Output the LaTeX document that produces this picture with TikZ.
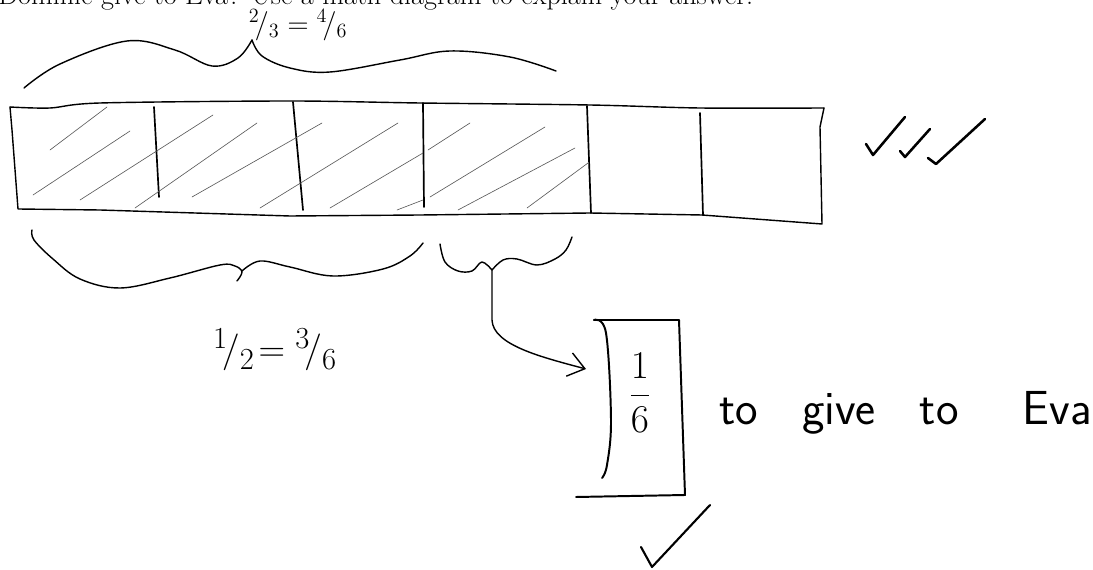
\documentclass[tikz,border=0pt]{standalone}
\usepackage{amsmath}
\usetikzlibrary{arrows.meta}

\begin{document}
\begin{tikzpicture}[
  x=0.025cm, y=-0.025cm,
  every node/.style={inner sep=0pt},
  pen/.style={line width=1pt,line cap=round,line join=round},
  hatch/.style={line width=0.45pt,black!65,line cap=round},
  tick/.style={line width=1.8pt,line cap=round,line join=round},
  hand/.style={font=\sffamily\fontsize{34}{40}\selectfont},
  arrow/.style={pen,-{Straight Barb[length=4mm,width=6mm]}}
]
  \useasboundingbox (0,0) rectangle (1093,570);

  % printed question, cut off at the top
  \node[anchor=base west,font=\fontsize{20}{24}\selectfont] (question) at (-2,5)
    {Dominic give to Eva? Use a math diagram to explain your answer.};

  % brace over the shaded part
  \draw[pen] plot[smooth,tension=0.6] coordinates {(24,88) (60,64) (127,41) (175,50) (212,66) (238,58) (252,40)};
  \draw[pen] plot[smooth,tension=0.6] coordinates {(252,40) (262,56) (290,68) (330,72) (400,60) (450,51) (510,57) (556,71)};
  \node[font=\fontsize{20}{24}\selectfont] (thirds) at (298,25) {$^{2}\!/_{3} = {}^{4}\!/_{6}$};

  % the bar
  \draw[pen] plot[smooth,tension=0.5] coordinates {(10,107) (50,108) (100,103) (290,101) (420,103) (590,105) (700,108) (824,108)};
  \draw[pen] (824,108) -- (820,127) -- (822,224) -- (702,215) -- (590,213) -- (420,215)
    -- (290,216) -- (100,210) -- (18,209) -- (12,130) -- (10,107);
  \foreach \xa/\ya/\xb/\yb in {154/107/159/197, 293/102/303/210, 423/103/424/207,
                               587/106/591/213, 700/113/703/215}
    \draw[pen,line width=1.2pt] (\xa,\ya) -- (\xb,\yb);
  % shading of four parts
  \foreach \xa/\ya/\xb/\yb in {50/150/107/107, 33/195/130/131, 80/200/213/115, 135/208/257/123,
                               192/197/322/123, 260/208/398/123, 330/208/423/153, 397/210/423/200,
                               428/150/470/123, 430/197/545/127, 458/210/575/148, 527/208/588/163}
    \draw[hatch] (\xa,\ya) -- (\xb,\yb);

  % braces under the bar
  \draw[pen] plot[smooth,tension=0.6] coordinates {(32,230) (34,240) (53,259) (80,279) (120,288) (170,278) (220,265) (235,266) (242,272) (237,281)};
  \draw[pen] plot[smooth,tension=0.6] coordinates {(242,271) (260,261) (290,267) (333,276) (383,269) (410,256) (423,243)};
  \node[font=\fontsize{24.88}{30}\selectfont,scale=1.05] (halves) at (275,350) {$^{1}\!/_{2}\!={}^{3}\!/_{6}$};

  \draw[pen] plot[smooth,tension=0.6] coordinates {(440,244) (445,262) (458,271) (472,271) (482,262) (492,270)};
  \draw[pen] plot[smooth,tension=0.6] coordinates {(492,270) (503,260) (517,259) (537,265) (555,259) (566,250) (572,237)};
  \coordinate (gcusp) at (492,270);
  \coordinate (tip) at (586,369);

  % box with the sixth
  \draw[pen,line width=1.4pt] (594,320) -- (679,320) -- (685,495) -- (576,497);
  \draw[pen,line width=1.4pt] plot[smooth,tension=0.6] coordinates {(594,320) (606,333) (611,420) (607,465) (602,478)};
  \node[font=\huge,scale=1.35] (sixth) at (640,393) {$\dfrac{1}{6}$};
  \draw[arrow] (gcusp) -- ++(0,50) .. controls +(1,25) and +(-45,-12) .. (tip);

  \node[hand,anchor=base west] (give) at (719,425)
    {to\hspace{1.1cm}give\hspace{1.1cm}to\hspace{1.6cm}Eva};

  % marks
  \draw[tick] (866,144) -- (873,155) -- (905,117);
  \draw[tick] (900,151) -- (905,157) -- (930,129);
  \draw[tick] (928,158) -- (936,164) -- (985,119);
  \draw[tick,line width=1.5pt] (641,547) -- (652,567) -- (710,505);
\end{tikzpicture}
\end{document}
